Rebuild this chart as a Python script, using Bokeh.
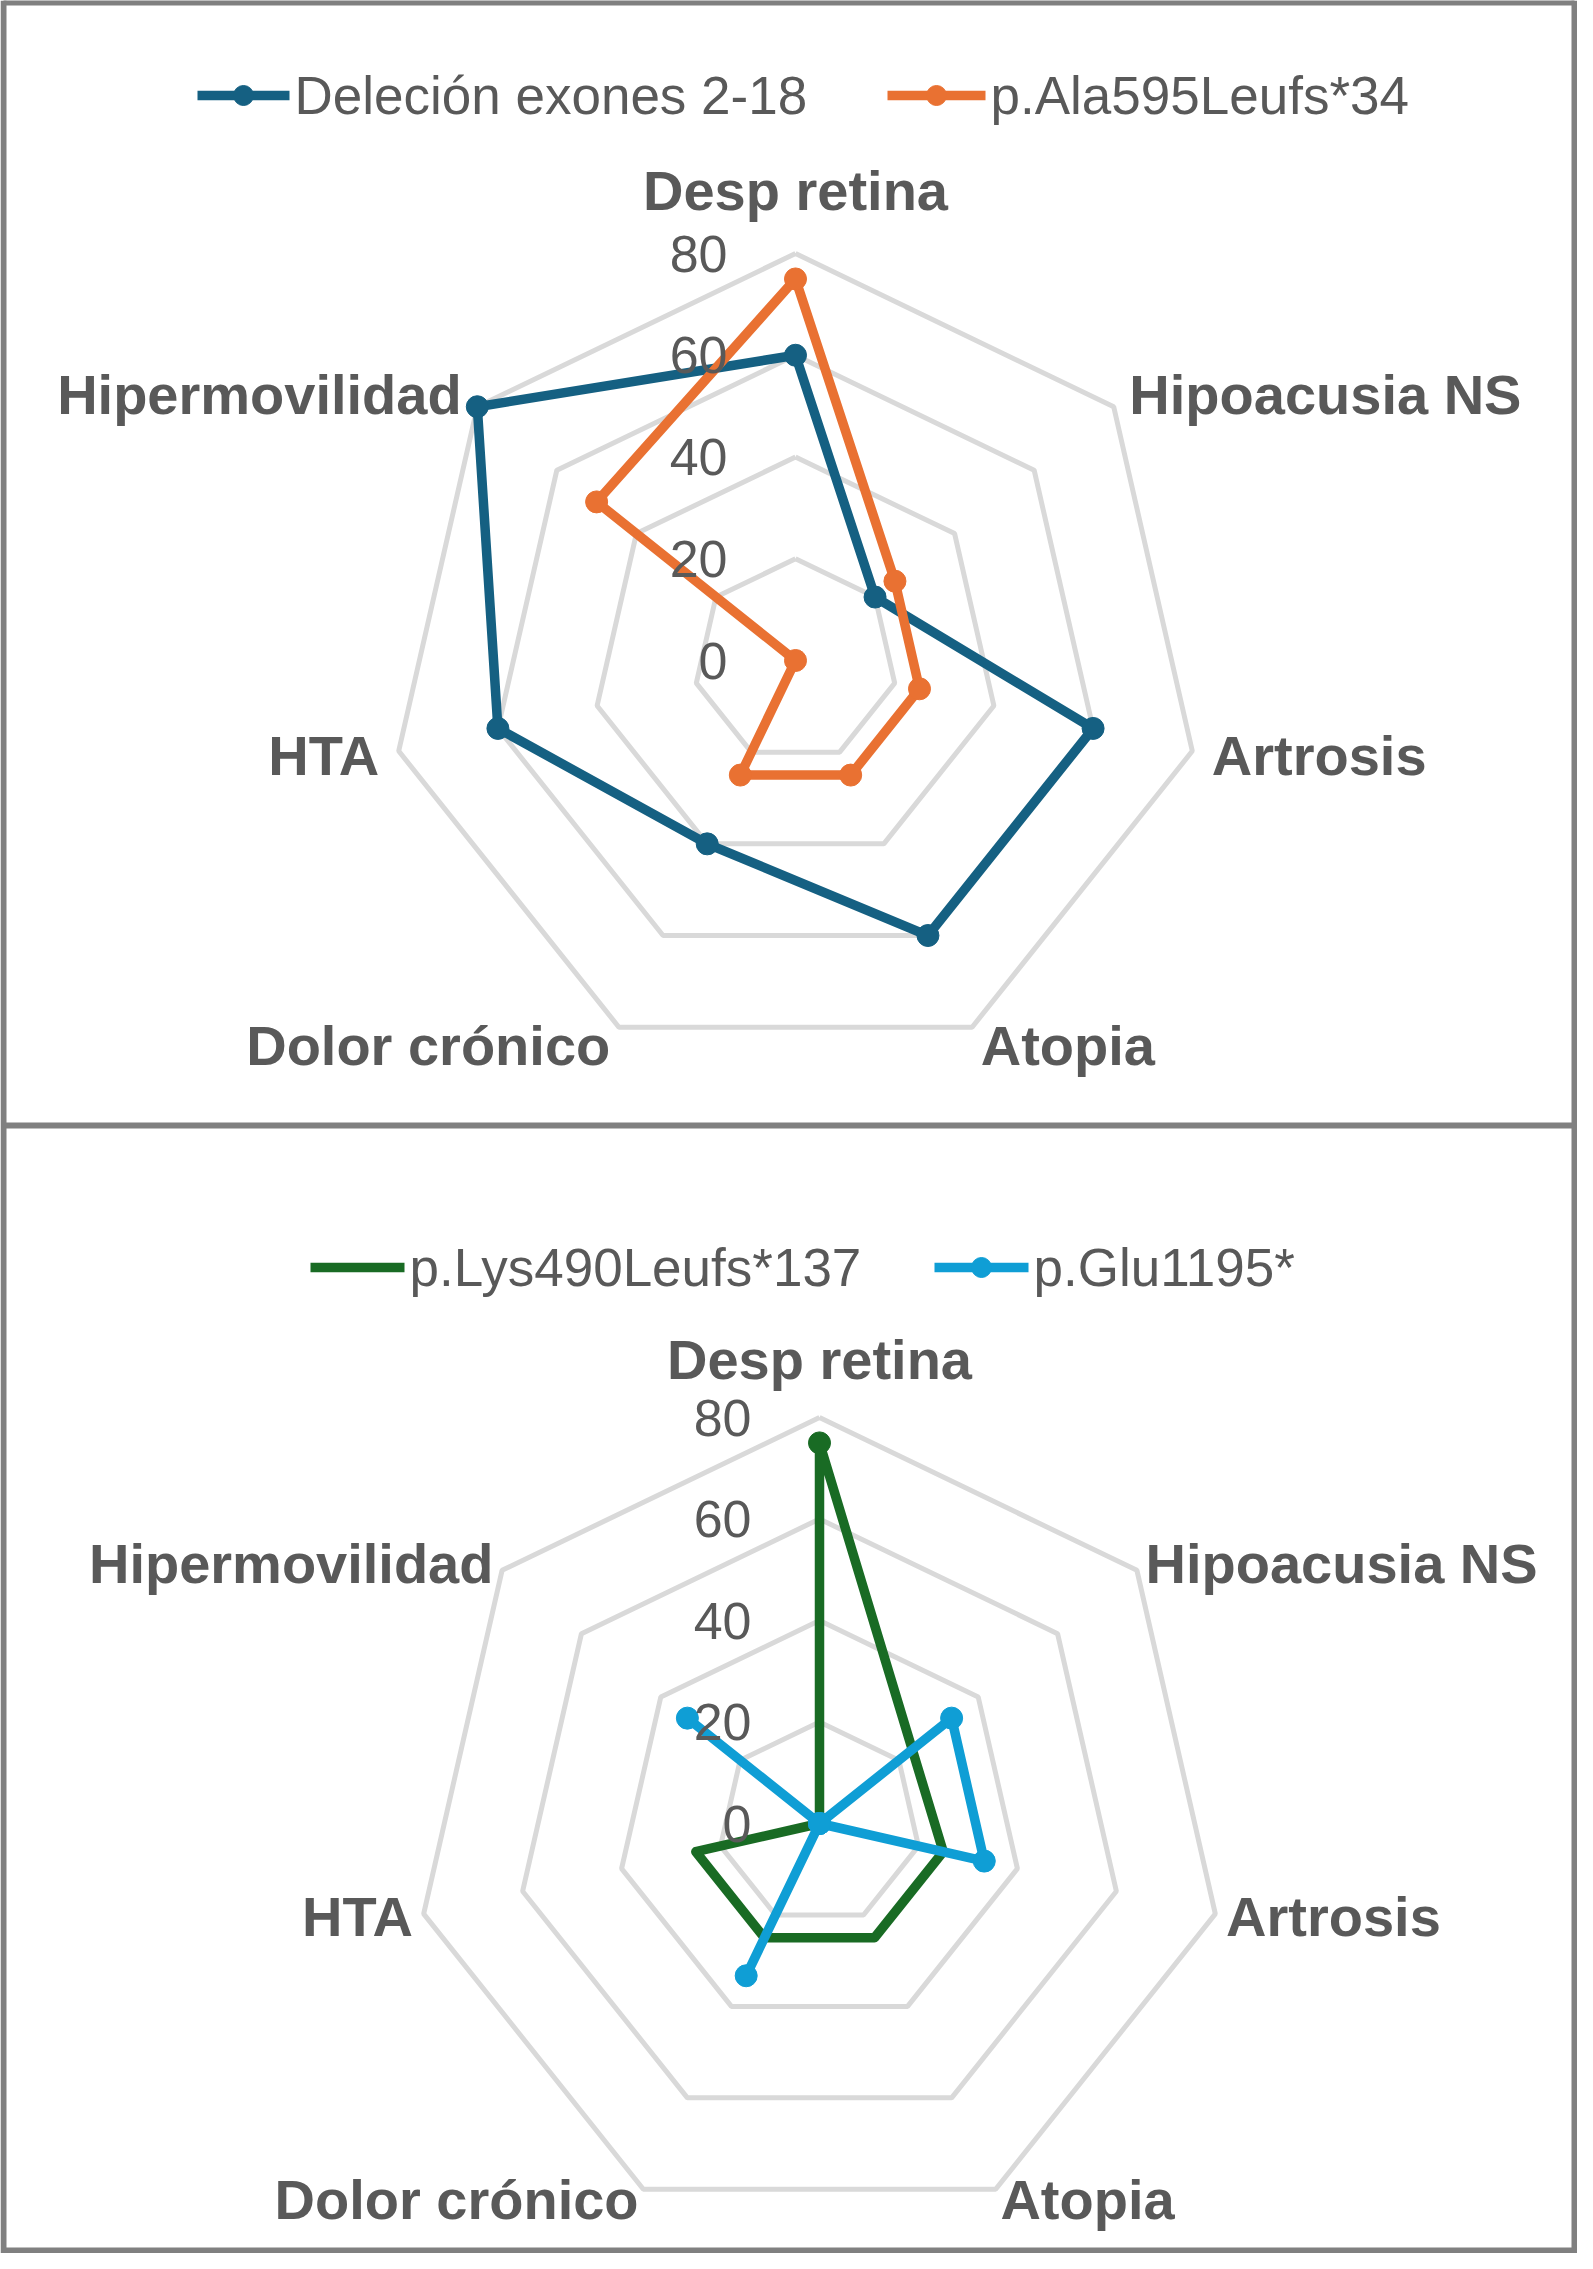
import numpy as np
from bokeh.plotting import figure
from bokeh.models import Range1d
from bokeh.core.properties import value
from bokeh.embed import file_html
from bokeh.resources import INLINE

# categorias del radar (sentido horario desde arriba)
categories = ["Desp retina", "Hipoacusia NS", "Artrosis", "Atopia",
              "Dolor crónico", "HTA", "Hipermovilidad"]
ticks = [0, 20, 40, 60, 80]

# panel superior
del_exones = [60, 20, 60, 60, 40, 60, 80]
ala595 = [75, 25, 25, 25, 25, 0, 50]
# panel inferior (None = sin dato)
lys490 = [75, None, 25, 25, 25, 25, 0]
glu1195 = [0, 33.3, 33.3, 0, 33.3, 0, 33.3]

names_top = ["Deleción exones 2-18", "p.Ala595Leufs*34"]
names_bot = ["p.Lys490Leufs*137", "p.Glu1195*"]

FONT = value("Liberation Sans")
GREY_TXT = "#595959"
RING = "#D9D9D9"

W, H = 1577, 2253
p = figure(width=W, height=H, output_backend="svg", toolbar_location=None,
           x_range=Range1d(8, 8 + W), y_range=Range1d(8 + H, 8),
           min_border=0, outline_line_color=None)
p.axis.visible = False
p.grid.visible = False

# marcos de los dos paneles
p.segment(x0=[11, 1582, 11, 11, 11], y0=[8, 8, 10, 1133, 2258],
          x1=[11, 1582, 1582, 1582, 1582], y1=[2261, 2261, 10, 1133, 2258],
          line_color="#808080", line_width=6)

ang = np.arange(len(categories)) * 2 * np.pi / len(categories)
dx, dy = np.sin(ang), -np.cos(ang)


def radar(cx, cy, R, series, colors, marker_masks, pad=20, top_pad=60):
    k = R / max(ticks)
    # anillos
    for t in ticks[1:]:
        xs = np.append(cx + t * k * dx, cx + t * k * dx[0])
        ys = np.append(cy + t * k * dy, cy + t * k * dy[0])
        p.line(xs, ys, line_color=RING, line_width=5)
    # series
    for vals, col, mask in zip(series, colors, marker_masks):
        idx = [i for i, v in enumerate(vals) if v is not None]
        v = np.array([vals[i] for i in idx], dtype=float)
        xs = cx + v * k * dx[idx]
        ys = cy + v * k * dy[idx]
        p.line(np.append(xs, xs[0]), np.append(ys, ys[0]), line_color=col,
               line_width=9.5, line_join="round")
        mx = [x for x, i in zip(xs, idx) if mask[i]]
        my = [y for y, i in zip(ys, idx) if mask[i]]
        p.scatter(mx, my, size=22, fill_color=col, line_color=col)
    # etiquetas de categoria
    for i, c in enumerate(categories):
        if abs(dx[i]) < 0.1:
            x, y, al = cx, cy - R - top_pad, "center"
        else:
            x = cx + (R + pad) * dx[i]
            y = cy + (R + pad) * dy[i]
            al = "left" if dx[i] > 0 else "right"
        p.text([x], [y], text=[c], text_font=FONT, text_font_size="56px",
               text_font_style="bold", text_color=GREY_TXT, text_align=al,
               text_baseline="middle")
    # etiquetas del eje
    p.text([cx - 68] * len(ticks), [cy - t * k for t in ticks],
           text=[str(t) for t in ticks], text_font=FONT, text_font_size="52px",
           text_color=GREY_TXT, text_align="right", text_baseline="middle")


def legend(y, entries):
    for x0, x1, col, mark, name in entries:
        p.segment([x0], [y], [x1], [y], line_color=col, line_width=9.5)
        if mark:
            p.scatter([(x0 + x1) / 2], [y], size=20, fill_color=col, line_color=col)
        p.text([x1 + 5], [y], text=[name], text_font=FONT, text_font_size="53px",
               text_color=GREY_TXT, text_align="left", text_baseline="middle")


all_on = [True] * len(categories)
lys_mask = [c == "Desp retina" for c in categories]

radar(803, 668, 407, [del_exones, ala595], ["#156082", "#E97132"], [all_on, all_on],
      pad=20, top_pad=63)
legend(103, [(205, 297, "#156082", True, names_top[0]),
             (895, 993, "#E97132", True, names_top[1])])

radar(827, 1831, 406, [lys490, glu1195], ["#196B24", "#0F9ED5"], [lys_mask, all_on],
      pad=11, top_pad=58)
legend(1275, [(318, 412, "#196B24", False, names_bot[0]),
              (942, 1036, "#0F9ED5", True, names_bot[1])])

open("out.html", "w").write(file_html(p, INLINE))
